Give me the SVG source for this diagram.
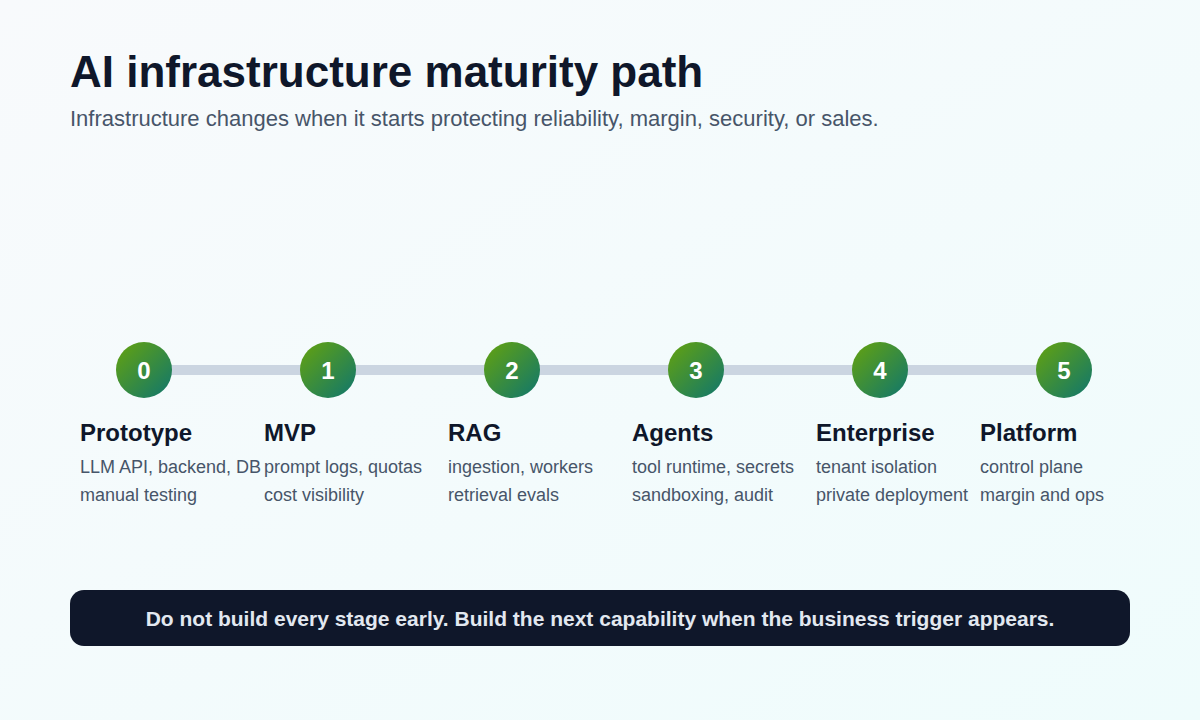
<svg xmlns="http://www.w3.org/2000/svg" width="1200" height="720" viewBox="0 0 1200 720">
<defs>
<linearGradient id="bg" x1="0" y1="0" x2="1" y2="1"><stop offset="0" stop-color="#f8fafc"/><stop offset="1" stop-color="#effcfc"/></linearGradient>
<linearGradient id="g" x1="0" y1="0" x2="1" y2="1"><stop offset="0" stop-color="#65a30d"/><stop offset="1" stop-color="#0f766e"/></linearGradient>
<style>
text{font-family:"Liberation Sans",Arial,sans-serif}
.n{font-size:24px;font-weight:bold;fill:#fff;text-anchor:middle}
.t{font-size:24px;font-weight:bold;fill:#0f172a}
.d{font-size:18px;fill:#475569}
</style>
</defs>
<rect width="1200" height="720" fill="url(#bg)"/>
<text x="70" y="87" font-size="44" font-weight="bold" fill="#0f172a">AI infrastructure maturity path</text>
<text x="70" y="126" font-size="22" fill="#475569">Infrastructure changes when it starts protecting reliability, margin, security, or sales.</text>
<g id="connectors"><line x1="144" y1="370" x2="1064" y2="370" stroke="#cbd5e1" stroke-width="10"/></g>
<g id="s0"><circle cx="144" cy="370" r="28" fill="url(#g)"/><text class="n" x="144" y="379">0</text><text class="t" x="80" y="441">Prototype</text><text class="d" x="80" y="473">LLM API, backend, DB</text><text class="d" x="80" y="501">manual testing</text></g>
<g id="s1"><circle cx="328" cy="370" r="28" fill="url(#g)"/><text class="n" x="328" y="379">1</text><text class="t" x="264" y="441">MVP</text><text class="d" x="264" y="473">prompt logs, quotas</text><text class="d" x="264" y="501">cost visibility</text></g>
<g id="s2"><circle cx="512" cy="370" r="28" fill="url(#g)"/><text class="n" x="512" y="379">2</text><text class="t" x="448" y="441">RAG</text><text class="d" x="448" y="473">ingestion, workers</text><text class="d" x="448" y="501">retrieval evals</text></g>
<g id="s3"><circle cx="696" cy="370" r="28" fill="url(#g)"/><text class="n" x="696" y="379">3</text><text class="t" x="632" y="441">Agents</text><text class="d" x="632" y="473">tool runtime, secrets</text><text class="d" x="632" y="501">sandboxing, audit</text></g>
<g id="s4"><circle cx="880" cy="370" r="28" fill="url(#g)"/><text class="n" x="880" y="379">4</text><text class="t" x="816" y="441">Enterprise</text><text class="d" x="816" y="473">tenant isolation</text><text class="d" x="816" y="501">private deployment</text></g>
<g id="s5"><circle cx="1064" cy="370" r="28" fill="url(#g)"/><text class="n" x="1064" y="379">5</text><text class="t" x="980" y="441">Platform</text><text class="d" x="980" y="473">control plane</text><text class="d" x="980" y="501">margin and ops</text></g>
<g id="banner"><rect x="70" y="590" width="1060" height="56" rx="14" fill="#0f172a"/><text x="600" y="626" font-size="21" font-weight="bold" fill="#e2e8f0" text-anchor="middle">Do not build every stage early. Build the next capability when the business trigger appears.</text></g>
</svg>
